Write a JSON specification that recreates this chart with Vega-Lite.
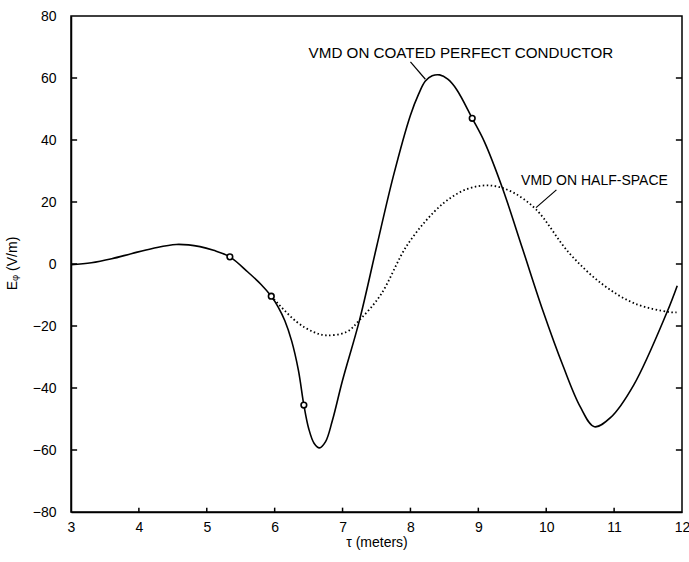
{
  "$schema": "https://vega.github.io/schema/vega-lite/v6.json",
  "width": 611,
  "height": 496,
  "autosize": {"type": "none"},
  "padding": {"left": 71, "top": 16, "right": 7, "bottom": 50},
  "background": "white",
  "config": {
    "view": {"stroke": "black", "strokeWidth": 1.5},
    "font": "Liberation Sans",
    "axis": {
      "grid": false,
      "labelFont": "Liberation Sans",
      "labelFontSize": 14,
      "labelColor": "black",
      "labelOverlap": false,
      "labelFlush": false,
      "domainColor": "black",
      "domainWidth": 1.5,
      "tickColor": "black",
      "tickWidth": 1.5,
      "titleFont": "Liberation Sans",
      "titleFontSize": 14,
      "titleFontWeight": "normal",
      "titleColor": "black"
    }
  },
  "datasets": {
    "coated": [
      {"tau": 3.0, "E": -0.2},
      {"tau": 3.3, "E": 0.4},
      {"tau": 3.6, "E": 1.7},
      {"tau": 3.9, "E": 3.4},
      {"tau": 4.2, "E": 5.0},
      {"tau": 4.55, "E": 6.3},
      {"tau": 4.9, "E": 5.6},
      {"tau": 5.1, "E": 4.4},
      {"tau": 5.34, "E": 2.3},
      {"tau": 5.6, "E": -2.5},
      {"tau": 5.8, "E": -6.6},
      {"tau": 5.95, "E": -10.4},
      {"tau": 6.05, "E": -13.8},
      {"tau": 6.15, "E": -18.3},
      {"tau": 6.25, "E": -24.8},
      {"tau": 6.35, "E": -34.3},
      {"tau": 6.43, "E": -45.5},
      {"tau": 6.5, "E": -53.0},
      {"tau": 6.58, "E": -57.8},
      {"tau": 6.66, "E": -59.3},
      {"tau": 6.75, "E": -57.3},
      {"tau": 6.85, "E": -50.5},
      {"tau": 7.0, "E": -37.5},
      {"tau": 7.25, "E": -18.1},
      {"tau": 7.5, "E": 5.4},
      {"tau": 7.75, "E": 28.5},
      {"tau": 8.0, "E": 48.0},
      {"tau": 8.12, "E": 54.8},
      {"tau": 8.22, "E": 59.0},
      {"tau": 8.32, "E": 60.7},
      {"tau": 8.43, "E": 61.0},
      {"tau": 8.55, "E": 59.6},
      {"tau": 8.68, "E": 56.3},
      {"tau": 8.91, "E": 47.0},
      {"tau": 9.09, "E": 39.4},
      {"tau": 9.36, "E": 24.2},
      {"tau": 9.65, "E": 5.0},
      {"tau": 9.95, "E": -15.0},
      {"tau": 10.25, "E": -33.0},
      {"tau": 10.5, "E": -46.0},
      {"tau": 10.71, "E": -52.5},
      {"tau": 10.95, "E": -49.5},
      {"tau": 11.29, "E": -39.0},
      {"tau": 11.78, "E": -15.5},
      {"tau": 11.93, "E": -7.0}
    ],
    "halfspace": [
      {"tau": 5.95, "E": -10.4},
      {"tau": 6.32, "E": -18.6},
      {"tau": 6.57, "E": -21.9},
      {"tau": 6.76, "E": -23.0},
      {"tau": 7.06, "E": -21.9},
      {"tau": 7.25, "E": -18.1},
      {"tau": 7.56, "E": -10.0},
      {"tau": 7.97, "E": 6.7},
      {"tau": 8.48, "E": 19.5},
      {"tau": 8.85, "E": 24.3},
      {"tau": 9.19, "E": 25.3},
      {"tau": 9.5, "E": 23.2},
      {"tau": 9.85, "E": 17.6},
      {"tau": 10.34, "E": 3.5},
      {"tau": 10.82, "E": -6.4},
      {"tau": 11.3, "E": -12.7},
      {"tau": 11.81, "E": -15.5},
      {"tau": 11.92, "E": -15.6}
    ],
    "markers": [
      {"tau": 5.34, "E": 2.3},
      {"tau": 5.95, "E": -10.4},
      {"tau": 6.43, "E": -45.5},
      {"tau": 8.91, "E": 47.0}
    ],
    "leaders": [
      {"tau": 8.0, "E": 65.2, "tau2": 8.22, "E2": 59.6},
      {"tau": 10.15, "E": 23.9, "tau2": 9.85, "E2": 18.2}
    ],
    "label1": [
      {"tau": 6.5, "E": 68.0, "label": "VMD ON COATED PERFECT CONDUCTOR"}
    ],
    "label2": [
      {"tau": 9.63, "E": 26.8, "label": "VMD ON HALF-SPACE"}
    ],
    "xticks": [
      {"tau": 4}, {"tau": 5}, {"tau": 6}, {"tau": 7}, {"tau": 8}, {"tau": 9}, {"tau": 10}, {"tau": 11}
    ],
    "yticks": [
      {"E": -60}, {"E": -40}, {"E": -20}, {"E": 0}, {"E": 20}, {"E": 40}, {"E": 60}
    ]
  },
  "resolve": {"axis": {"y": "independent"}},
  "layer": [
    {
      "data": {"name": "coated"},
      "mark": {"type": "line", "color": "black", "strokeWidth": 1.6, "interpolate": "catmull-rom"},
      "encoding": {
        "x": {
          "field": "tau", "type": "quantitative",
          "scale": {"domain": [3, 12], "nice": false, "zero": false},
          "axis": {
            "orient": "bottom",
            "values": [3, 4, 5, 6, 7, 8, 9, 10, 11, 12],
            "format": "d",
            "ticks": false,
            "labelPadding": 8,
            "title": "τ (meters)",
            "titleX": 305.5,
            "titleY": 30,
            "titleAlign": "center",
            "titleBaseline": "middle"
          }
        },
        "y": {
          "field": "E", "type": "quantitative",
          "scale": {"domain": [-80, 80], "nice": false, "zero": false},
          "axis": {
            "orient": "left",
            "values": [-80, -60, -40, -20, 0, 20, 40, 60, 80],
            "format": "d",
            "ticks": false,
            "labelPadding": 15,
            "title": "Eᵩ (V/m)",
            "titleX": -59,
            "titleY": 247,
            "titleAngle": -90,
            "titleAlign": "center",
            "titleBaseline": "middle"
          }
        }
      }
    },
    {
      "data": {"name": "halfspace"},
      "mark": {"type": "line", "color": "black", "strokeWidth": 1.8, "strokeDash": [1.5, 2.5], "interpolate": "catmull-rom"},
      "encoding": {
        "x": {"field": "tau", "type": "quantitative"},
        "y": {"field": "E", "type": "quantitative", "axis": null}
      }
    },
    {
      "data": {"name": "markers"},
      "mark": {"type": "point", "shape": "circle", "size": 32, "filled": false, "stroke": "black", "strokeWidth": 1.6, "fill": "white", "fillOpacity": 1, "opacity": 1},
      "encoding": {
        "x": {"field": "tau", "type": "quantitative"},
        "y": {"field": "E", "type": "quantitative", "axis": null}
      }
    },
    {
      "data": {"name": "leaders"},
      "mark": {"type": "rule", "color": "black", "strokeWidth": 1.2},
      "encoding": {
        "x": {"field": "tau", "type": "quantitative"},
        "y": {"field": "E", "type": "quantitative", "axis": null},
        "x2": {"field": "tau2"},
        "y2": {"field": "E2"}
      }
    },
    {
      "data": {"name": "xticks"},
      "mark": {"type": "rule", "color": "black", "strokeWidth": 1.5},
      "encoding": {
        "x": {"field": "tau", "type": "quantitative"},
        "y": {"datum": -80, "type": "quantitative", "axis": null},
        "y2": {"datum": -78.6}
      }
    },
    {
      "data": {"name": "yticks"},
      "mark": {"type": "rule", "color": "black", "strokeWidth": 1.5},
      "encoding": {
        "x": {"datum": 3, "type": "quantitative"},
        "x2": {"datum": 3.09},
        "y": {"field": "E", "type": "quantitative", "axis": null}
      }
    },
    {
      "data": {"name": "yticks"},
      "mark": {"type": "rule", "color": "black", "strokeWidth": 1.5},
      "encoding": {
        "x": {"datum": 11.91, "type": "quantitative"},
        "x2": {"datum": 12},
        "y": {"field": "E", "type": "quantitative", "axis": null}
      }
    },
    {
      "data": {"name": "label1"},
      "mark": {"type": "text", "align": "left", "baseline": "middle", "fontSize": 15.2, "font": "Liberation Sans", "color": "black"},
      "encoding": {
        "x": {"field": "tau", "type": "quantitative"},
        "y": {"field": "E", "type": "quantitative", "axis": null},
        "text": {"field": "label"}
      }
    },
    {
      "data": {"name": "label2"},
      "mark": {"type": "text", "align": "left", "baseline": "middle", "fontSize": 14, "font": "Liberation Sans", "color": "black"},
      "encoding": {
        "x": {"field": "tau", "type": "quantitative"},
        "y": {"field": "E", "type": "quantitative", "axis": null},
        "text": {"field": "label"}
      }
    }
  ]
}
